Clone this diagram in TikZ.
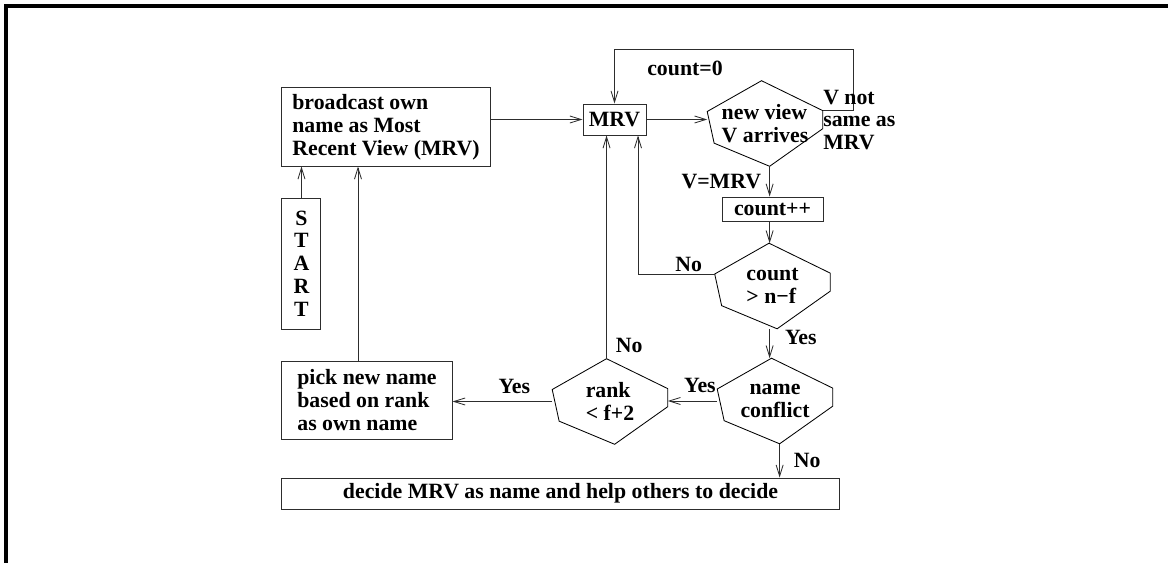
\documentclass[tikz,border=0pt]{standalone}
\usepackage{fontspec}
\setmainfont{Liberation Serif}
\usepackage{tikz}
\usetikzlibrary{arrows.meta,positioning,calc}
\definecolor{cLine}{RGB}{45,45,45}
\tikzset{
  basebox/.style={rectangle,draw=cLine,line width=0.7pt,align=left,
                  font=\bfseries\fontsize{15.5}{16.2}\selectfont},
  hexnode/.style={rectangle,minimum width=2.875cm,minimum height=2.125cm,
                  inner sep=0pt,align=left,
                  font=\bfseries\fontsize{15.5}{16.2}\selectfont},
  hexline/.style={draw=black,line width=0.6pt,line join=miter},
  lbl/.style={font=\bfseries\fontsize{15.5}{16.2}\selectfont,inner sep=1pt,
              text=black},
  arr/.style={-{Straight Barb[length=8pt,width=5pt]},line width=0.6pt,color=cLine}
}
% hexagon drawn round an invisible node
\newcommand{\hexdraw}[1]{%
  \draw[hexline] let \p1=(#1.north west), \p2=(#1.south east) in
    ({\x1+0.47*(\x2-\x1)},\y1) -- (\x2,{\y1+0.35*(\y2-\y1)})
    -- (\x2,{\y1+0.56*(\y2-\y1)}) -- ({\x1+0.54*(\x2-\x1)},\y2)
    -- ({\x1+0.06*(\x2-\x1)},{\y1+0.73*(\y2-\y1)})
    -- (\x1,{\y1+0.36*(\y2-\y1)}) -- cycle;}

\begin{document}
\begin{tikzpicture}[x=0.025cm,y=-0.025cm]
  \useasboundingbox (0,0) rectangle (1168,563);
  \draw[line width=2.3pt] (6,563) -- (6,6) -- (1168,6);

  \node[basebox,minimum width=5.2cm,minimum height=1.95cm] (bcast) at (386,127)
      {broadcast own\\name as Most\\Recent View (MRV)};
  \node[basebox,align=center,minimum width=0.975cm,minimum height=3.275cm,
        below=0.775cm of bcast.south west,anchor=north west] (start)
      {S\\T\\A\\R\\T};
  \node[basebox,minimum width=4.25cm,minimum height=1.95cm,
        below=0.775cm of start.south west,anchor=north west] (pick)
      {pick new name\\based on rank\\as own name};
  \node[basebox,align=center,minimum width=13.925cm,minimum height=0.775cm,
        below=0.95cm of pick.south west,anchor=north west] (decide)
      {decide MRV as name and help others to decide};
  \node[basebox,minimum width=1.575cm,minimum height=0.775cm] (mrv) at (614.5,119.5)
      {MRV};
  \node[basebox,minimum width=2.525cm,minimum height=0.6cm,inner ysep=1pt] (cnt)
      at (772.5,209) {count++};
  \node[hexnode] (view) at (765,123.5) {new view\\V arrives};
  \node[hexnode] (cond) at (772.5,286) {count\\> n−f};
  \node[hexnode,align=center] (conf) at (775,401) {name\\conflict};
  \node[hexnode] (rank) at (610,401.5) {rank\\< f+2};
  \hexdraw{view}
  \hexdraw{cond}
  \hexdraw{conf}
  \hexdraw{rank}

  \coordinate (pk) at ([xshift=-0.225cm]pick.north);
  \coordinate (vb) at ($(view.south west)!0.54!(view.south east)$);
  \coordinate (vr) at ($(view.north east)!0.35!(view.south east)$);
  \coordinate (cl) at ($(cond.north west)!0.36!(cond.south west)$);
  \coordinate (rt) at ($(rank.north west)!0.47!(rank.north east)$);
  \coordinate (cb) at ($(conf.south west)!0.54!(conf.south east)$);

  \draw[arr] (start.north) -- (start.north |- bcast.south);
  \draw[arr] (pk) -- (pk |- bcast.south);
  \draw[arr] (bcast.east |- mrv.west) -- (mrv.west);
  \draw[arr] (mrv.east) -- (view.west |- mrv.east);
  \draw[arr] (vb) -- (vb |- cnt.north)
      node[lbl,midway,left=0.17cm] (same) {V=MRV};
  \draw[arr] (vb |- cnt.south) -- (vb |- cond.north);
  \draw[arr] (vr) -- ++(31,0) |- ([yshift=1.35cm]mrv.north) -- (mrv.north);
  \node[lbl] (zero) at (685,68) {count=0};
  \node[lbl,anchor=west,align=left,inner sep=0pt] (diff) at (823,120)
      {V not\\same as\\MRV};
  \draw[arr] (cl) -| ([xshift=0.5875cm]mrv.south)
      node[lbl,pos=0.17,above] (no1) {No};
  \draw[arr] (vb |- cond.south) -- (vb |- conf.north)
      node[lbl,pos=0.3,right=0.34cm] (yes1) {Yes};
  \draw[arr] (conf.west) -- (rank.east |- conf.west)
      node[lbl,pos=0.35,above=0.15cm] (yes2) {Yes};
  \draw[arr] (rank.west) -- (pick.east |- rank.west)
      node[lbl,pos=0.38,above=0.15cm] (yes3) {Yes};
  \draw[arr] (rt) -- (rt |- mrv.south)
      node[lbl,pos=0.06,right=0.19cm] (no2) {No};
  \draw[arr] (cb) -- (cb |- decide.north)
      node[lbl,midway,right=0.31cm] (no3) {No};
\end{tikzpicture}
\end{document}
